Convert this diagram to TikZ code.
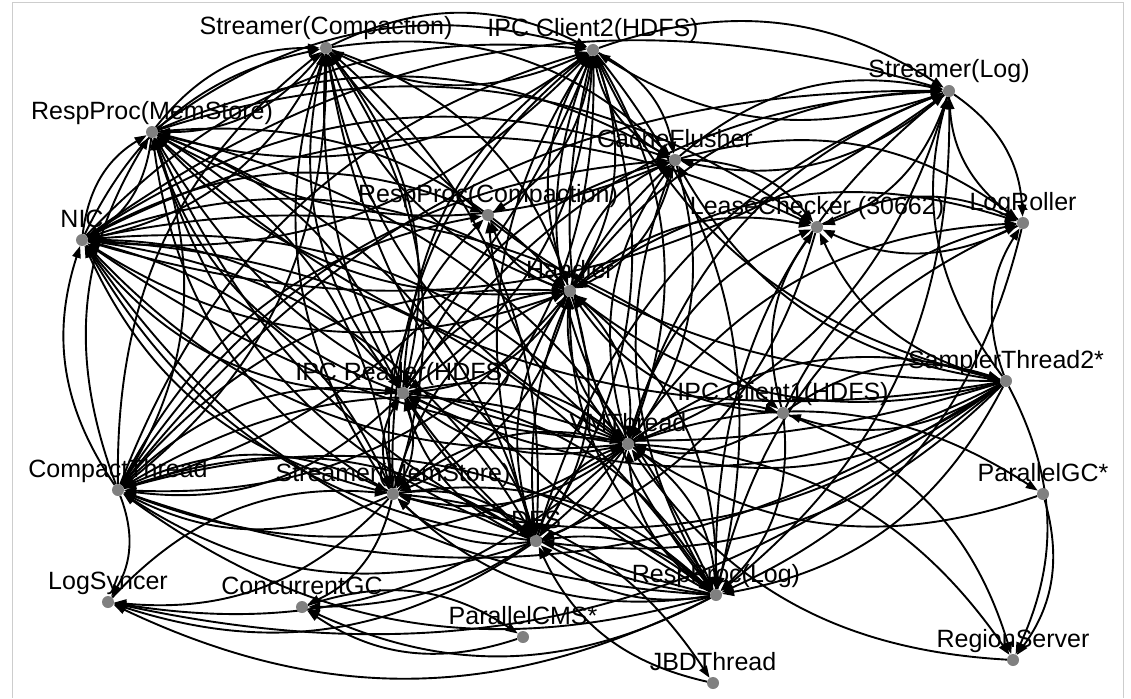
\documentclass[tikz,border=0pt]{standalone}
\usepackage{fontspec}
\setmainfont{Liberation Sans}
\usetikzlibrary{arrows.meta}
\definecolor{dotgray}{RGB}{128,128,128}
\definecolor{framegray}{RGB}{205,205,205}
\begin{document}
\begin{tikzpicture}[x=1pt,y=-1pt,
  vert/.style={circle,inner sep=0pt,minimum size=12pt},
  edge/.style={line width=1.9pt,-{Triangle[length=12pt,width=8.5pt]},bend left=26},
  lbl/.style={font=\fontsize{25}{30}\selectfont,anchor=base,inner sep=0pt}]
\useasboundingbox (0,0) rectangle (1131,698);
\draw[framegray,line width=1pt] (12,698) -- (12,3) -- (1123,3) -- (1123,698);

% thread vertices
\node[vert] (sc)  at (326,48)  {};
\node[vert] (c2)  at (593,50)  {};
\node[vert] (sl)  at (949,91)  {};
\node[vert] (rm)  at (152,132) {};
\node[vert] (cf)  at (675,160) {};
\node[vert] (rc)  at (488,215) {};
\node[vert] (lc)  at (817,227) {};
\node[vert] (lr)  at (1023,223) {};
\node[vert] (nic) at (82,240)  {};
\node[vert] (h)   at (570,291) {};
\node[vert] (st)  at (1006,381) {};
\node[vert] (ir)  at (403,393) {};
\node[vert] (c1)  at (783,413) {};
\node[vert] (vm)  at (628,444) {};
\node[vert] (ct)  at (118,490) {};
\node[vert] (pgc) at (1043,494) {};
\node[vert] (sm)  at (393,494) {};
\node[vert] (dfs) at (536,541) {};
\node[vert] (ls)  at (108,602) {};
\node[vert] (cgc) at (302,607) {};
\node[vert] (rl)  at (716,595) {};
\node[vert] (cms) at (523,637) {};
\node[vert] (rs)  at (1013,660) {};
\node[vert] (jbd) at (713,683) {};

% labels
\node[lbl] at ([yshift=13pt]sc.center)  {Streamer(Compaction)};
\node[lbl] at ([yshift=13pt]c2.center)  {IPC Client2(HDFS)};
\node[lbl] at ([yshift=13pt]sl.center)  {Streamer(Log)};
\node[lbl] at ([yshift=13pt]rm.center)  {RespProc(MemStore)};
\node[lbl] at ([yshift=13pt]cf.center)  {CacheFlusher};
\node[lbl] at ([yshift=13pt]rc.center)  {RespProc(Compaction)};
\node[lbl] at ([yshift=13pt]lc.center)  {LeaseChecker (30662)};
\node[lbl] at ([yshift=13pt]lr.center)  {LogRoller};
\node[lbl] at ([yshift=13pt]nic.center) {NIC};
\node[lbl] at ([yshift=13pt]h.center)   {Handler};
\node[lbl] at ([yshift=13pt]st.center)  {SamplerThread2*};
\node[lbl] at ([yshift=13pt]ir.center)  {IPC Reader(HDFS)};
\node[lbl] at ([yshift=13pt]c1.center)  {IPC Client1(HDFS)};
\node[lbl] at ([yshift=13pt]vm.center)  {VMThread};
\node[lbl] at ([yshift=13pt]ct.center)  {CompactThread};
\node[lbl] at ([yshift=13pt]pgc.center) {ParallelGC*};
\node[lbl] at ([yshift=13pt]sm.center)  {Streamer(MemStore)};
\node[lbl] at ([yshift=13pt]dfs.center) {DFS};
\node[lbl] at ([yshift=13pt]ls.center)  {LogSyncer};
\node[lbl] at ([yshift=13pt]cgc.center) {ConcurrentGC};
\node[lbl] at ([yshift=13pt]rl.center)  {RespProc(Log)};
\node[lbl] at ([yshift=13pt]cms.center) {ParallelCMS*};
\node[lbl] at ([yshift=13pt]rs.center)  {RegionServer};
\node[lbl] at ([yshift=13pt]jbd.center) {JBDThread};

% interactions between threads
\foreach \a/\b in {
  vm/nic,vm/rm,vm/sc,vm/c2,vm/sl,vm/cf,vm/rc,vm/lc,vm/lr,vm/h,vm/ir,vm/c1,vm/ct,
  vm/pgc,vm/sm,vm/dfs,vm/ls,vm/cgc,vm/rl,vm/st,vm/rs,
  nic/vm,c2/vm,cf/vm,h/vm,ir/vm,c1/vm,ct/vm,sm/vm,dfs/vm,rl/vm,st/vm,pgc/vm,rs/vm,sl/vm,
  h/nic,h/rm,h/sc,h/c2,h/sl,h/cf,h/rc,h/lc,h/lr,h/ir,h/sm,h/dfs,h/rl,h/ct,
  nic/h,rm/h,sc/h,c2/h,cf/h,ir/h,sm/h,dfs/h,rl/h,ct/h,st/h,c1/h,
  ir/nic,ir/rm,ir/sc,ir/c2,ir/sl,ir/cf,ir/sm,ir/dfs,ir/rl,ir/ct,
  nic/ir,rm/ir,sc/ir,c2/ir,sm/ir,dfs/ir,rl/ir,ct/ir,st/ir,
  sm/nic,sm/rm,sm/sc,sm/c2,sm/dfs,sm/rl,sm/ct,sm/ls,sm/cgc,sm/jbd,sm/rc,
  nic/sm,rm/sm,sc/sm,c2/sm,dfs/sm,rl/sm,ct/sm,st/sm,ls/sm,
  dfs/nic,dfs/rm,dfs/sc,dfs/c2,dfs/sl,dfs/cf,dfs/rl,dfs/ct,dfs/ls,
  nic/dfs,rm/dfs,sc/dfs,c2/dfs,rl/dfs,ct/dfs,st/dfs,jbd/dfs,lc/dfs,
  rl/nic,rl/rm,rl/sc,rl/c2,rl/sl,rl/cf,rl/lr,rl/ct,rl/ls,rl/cgc,
  nic/rl,rm/rl,c2/rl,sl/rl,ct/rl,st/rl,c1/rl,lr/rl,
  nic/rm,nic/sc,nic/c2,nic/sl,nic/rc,nic/lc,nic/c1,nic/cf,
  rm/nic,sc/nic,c2/nic,sl/nic,ct/nic,st/nic,
  ct/rm,ct/sc,ct/c2,ct/sl,ct/cf,ct/ls,ct/rc,
  rm/ct,sc/ct,c2/ct,st/ct,
  c2/sc,sc/c2,c2/sl,sl/c2,c2/cf,cf/c2,c2/rm,rm/c2,sl/cf,cf/sl,sl/lr,lr/sl,
  sl/lc,cf/lc,cf/lr,lc/lr,lr/lc,rm/sc,sc/rm,cf/rm,rm/cf,rm/lc,sc/cf,c2/rc,
  st/rm,st/sc,st/c2,st/sl,st/cf,st/lc,st/lr,st/c1,st/rs,st/ls,
  c1/st,c1/rs,c1/lc,c1/lr,
  pgc/rs,cgc/cms,cms/cgc}
  \draw[edge] (\a) to (\b);

% vertex dots on top
\foreach \n in {sc,c2,sl,rm,cf,rc,lc,lr,nic,h,st,ir,c1,vm,ct,pgc,sm,dfs,ls,cgc,rl,cms,rs,jbd}
  \fill[dotgray] (\n) circle (6pt);
\end{tikzpicture}
\end{document}
